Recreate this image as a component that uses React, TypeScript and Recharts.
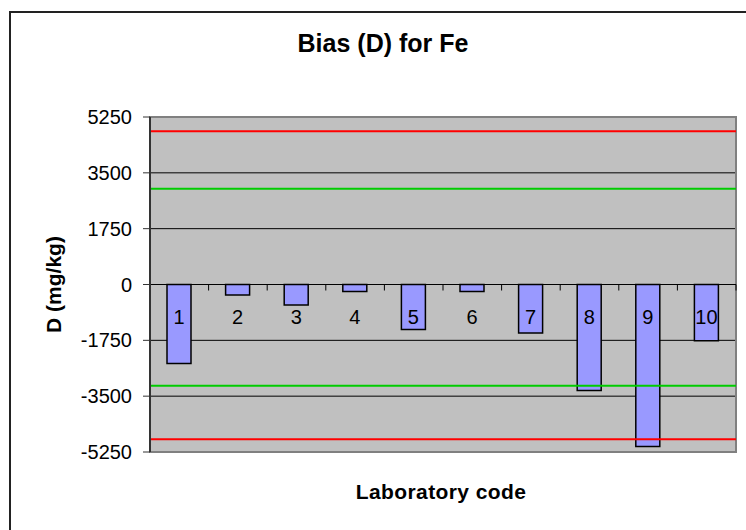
import React from 'react';
import {
  BarChart,
  Bar,
  XAxis,
  YAxis,
  CartesianGrid,
  ReferenceLine,
  ReferenceArea,
  LabelList,
} from 'recharts';

// Laboratory codes and their bias D (mg/kg) for Fe
const labs = ['1', '2', '3', '4', '5', '6', '7', '8', '9', '10'];
const bias = [-2480, -330, -640, -220, -1410, -220, -1520, -3320, -5080, -1760];

// Value axis ticks
const yTicks = [-5250, -3500, -1750, 0, 1750, 3500, 5250];

// Limit lines
const actionLimits = [4800, -4850];
const warningLimits = [3000, -3170];

const FONT = '"Liberation Sans", Arial, sans-serif';

const data = labs.map((lab, i) => ({ lab, d: bias[i] }));

// Category number drawn just under the zero line
const CategoryLabel = (p: any) => {
  const x = p.x ?? p.viewBox?.x;
  const y = p.y ?? p.viewBox?.y;
  const width = p.width ?? p.viewBox?.width;
  const height = p.height ?? p.viewBox?.height;
  const top = Math.min(y, y + height);
  return (
    <text
      x={x + width / 2}
      y={top + 32}
      textAnchor="middle"
      dominantBaseline="central"
      fontSize={20}
      fontFamily={FONT}
      fill="#000"
    >
      {p.value}
    </text>
  );
};

// Zero axis line with category boundary ticks
const ZeroAxis = (p: any) => {
  const { x1, x2, y1 } = p;
  const step = (x2 - x1) / labs.length;
  return (
    <g>
      <line x1={x1} x2={x2} y1={y1} y2={y1} stroke="#000" strokeWidth={1.2} />
      {labs.map((_, i) => (
        <line
          key={i}
          x1={x1 + step * (i + 1)}
          x2={x1 + step * (i + 1)}
          y1={y1}
          y2={y1 + 6}
          stroke="#000"
          strokeWidth={1}
        />
      ))}
    </g>
  );
};

const YTitle = (p: any) => {
  const vb = p.viewBox;
  const cx = vb.x + 53;
  const cy = vb.y + vb.height / 2;
  return (
    <text
      x={cx}
      y={cy}
      transform={`rotate(-90, ${cx}, ${cy})`}
      textAnchor="middle"
      dominantBaseline="central"
      fontSize={21}
      fontWeight="bold"
      fontFamily={FONT}
      fill="#000"
    >
      D (mg/kg)
    </text>
  );
};

export default function App() {
  return (
    <div
      style={{
        position: 'absolute',
        left: 0,
        top: 0,
        width: 746,
        height: 530,
        overflow: 'hidden',
        background: '#fff',
        fontFamily: FONT,
      }}
    >
      <div
        style={{
          position: 'absolute',
          left: 9,
          top: 11,
          width: 760,
          height: 560,
          borderLeft: '2px solid #222',
          borderTop: '2px solid #222',
        }}
      />
      <div
        style={{
          position: 'absolute',
          left: 233,
          width: 300,
          top: 27,
          lineHeight: '32px',
          textAlign: 'center',
          fontSize: 25,
          fontWeight: 'bold',
          color: '#000',
        }}
      >
        Bias (D) for Fe
      </div>
      <div
        style={{
          position: 'absolute',
          left: 291,
          width: 300,
          top: 479,
          lineHeight: '26px',
          textAlign: 'center',
          fontSize: 21,
          fontWeight: 'bold',
          letterSpacing: 0.4,
          color: '#000',
        }}
      >
        Laboratory code
      </div>
      <div style={{ position: 'absolute', left: 0, top: 0 }}>
        <BarChart
          width={746}
          height={530}
          data={data}
          margin={{ top: 117, right: 10, bottom: 78, left: 0 }}
          barCategoryGap={0}
        >
          <CartesianGrid
            vertical={false}
            stroke="#000"
            strokeWidth={1}
            fill="#C0C0C0"
            fillOpacity={1}
          />
          <XAxis dataKey="lab" hide />
          <YAxis
            width={150}
            domain={[-5250, 5250]}
            ticks={yTicks}
            interval={0}
            tickSize={7}
            tickMargin={11}
            axisLine={{ stroke: '#333', strokeWidth: 2 }}
            tickLine={{ stroke: '#333', strokeWidth: 1 }}
            tick={{ fontSize: 20, fill: '#000', fontFamily: FONT }}
            label={<YTitle />}
          />
          <Bar
            dataKey="d"
            fill="#9999FF"
            stroke="#000"
            strokeWidth={1.5}
            barSize={24}
            isAnimationActive={false}
          >
            <LabelList dataKey="lab" content={<CategoryLabel />} />
          </Bar>
          {warningLimits.map((v) => (
            <ReferenceLine key={`w${v}`} y={v} stroke="#00CC00" strokeWidth={2} />
          ))}
          {actionLimits.map((v) => (
            <ReferenceLine key={`a${v}`} y={v} stroke="#FF0000" strokeWidth={2} />
          ))}
          <ReferenceLine y={0} shape={<ZeroAxis />} />
          <ReferenceArea
            y1={-5250}
            y2={5250}
            fill="none"
            fillOpacity={0}
            stroke="#808080"
            strokeWidth={2}
          />
        </BarChart>
      </div>
    </div>
  );
}
